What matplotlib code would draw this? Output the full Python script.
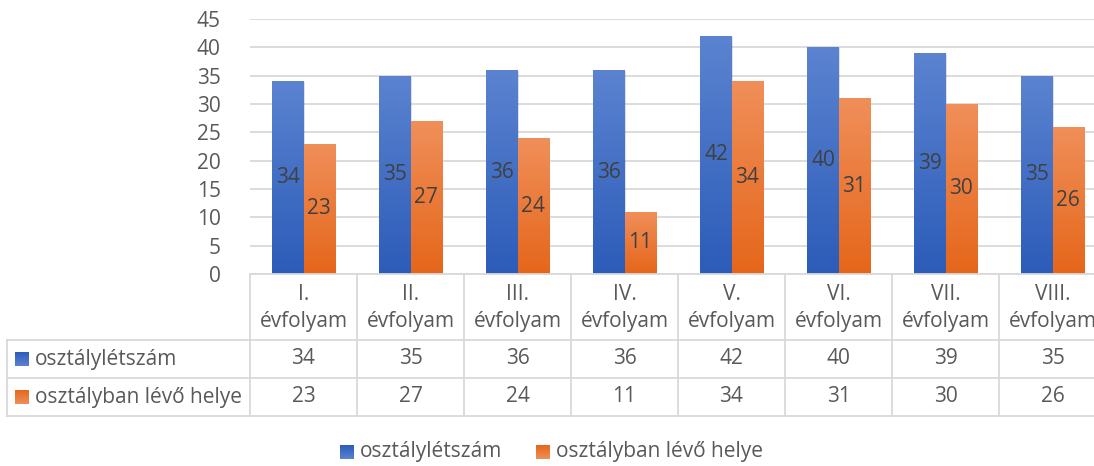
import numpy as np
import matplotlib
matplotlib.use("Agg")
import matplotlib.pyplot as plt
from matplotlib.patches import Rectangle
from matplotlib.colors import LinearSegmentedColormap

categories = ["I.\névfolyam", "II.\névfolyam", "III.\névfolyam", "IV.\névfolyam",
              "V.\névfolyam", "VI.\névfolyam", "VII.\névfolyam", "VIII.\névfolyam"]
series_names = ["osztálylétszám", "osztályban lévő helye"]
letszam = [34, 35, 36, 36, 42, 40, 39, 35]
helye = [23, 27, 24, 11, 34, 31, 30, 26]
yticks = [0, 5, 10, 15, 20, 25, 30, 35, 40, 45]

plt.rcParams['font.family'] = ['Open Sans', 'DejaVu Sans']
FS = 15
W, H = 1094, 466
fig = plt.figure(figsize=(W / 100, H / 100), dpi=100)

x0, y0, ytop = 250, 274, 19
catw = 107
ax = fig.add_axes([x0 / W, (H - y0) / H, 8 * catw / W, (y0 - ytop) / H])
ax.set_xlim(-0.5, 7.5)
ax.set_ylim(0, 45)
for s in ax.spines.values():
    s.set_visible(False)
ax.set_xticks([])
ax.set_yticks(yticks)
ax.tick_params(axis='y', length=0, pad=21, labelsize=FS, labelcolor='#595959')
ax.grid(axis='y', color='#d9d9d9', lw=1.3)
ax.set_axisbelow(True)

blue_cm = LinearSegmentedColormap.from_list('b', ['#2c5cb9', '#5b83d0'])
orange_cm = LinearSegmentedColormap.from_list('o', ['#e5661a', '#f08f5a'])
grad = np.linspace(0, 1, 256).reshape(-1, 1)

bw = 0.29
xs = np.arange(len(categories))
for vals, off, cm in [(letszam, -bw / 2, blue_cm), (helye, bw / 2, orange_cm)]:
    bars = ax.bar(xs + off, vals, width=bw, color='none', edgecolor='none', zorder=3)
    for b, v in zip(bars, vals):
        sh = Rectangle((b.get_x() + 0.012, 0), bw, v - 0.15, color='#000000', alpha=0.12, zorder=2.5, lw=0)
        ax.add_patch(sh)
        im = ax.imshow(grad, cmap=cm, origin='lower', aspect='auto',
                       extent=(b.get_x(), b.get_x() + bw, 0, v), zorder=3,
                       interpolation='bilinear')
        im.set_clip_path(b)
        ax.text(b.get_x() + bw / 2, v / 2, str(v), ha='center', va='center',
                fontsize=FS, color='#404040', zorder=4)
ax.set_xlim(-0.5, 7.5)
ax.set_ylim(0, 45)

ov = fig.add_axes([0, 0, 1, 1])
ov.set_xlim(0, W)
ov.set_ylim(H, 0)
ov.axis('off')
lc = '#d9d9d9'
lw = 1.3
rows_y = [274, 340, 378, 416]
xr = x0 + 8 * catw
ov.plot([x0, xr], [274, 274], color=lc, lw=lw)
for y in rows_y[1:]:
    ov.plot([7, xr], [y, y], color=lc, lw=lw)
ov.plot([7, 7], [340, 416], color=lc, lw=lw)
for i in range(9):
    xv = x0 + i * catw
    ov.plot([xv, xv], [274, 416], color=lc, lw=lw)
tc = '#595959'
for i, c in enumerate(categories):
    cx = x0 + (i + 0.5) * catw
    l1, l2 = c.split("\n")
    ov.text(cx, 295, l1, ha='center', va='center', fontsize=FS, color=tc)
    ov.text(cx, 321, l2, ha='center', va='center', fontsize=FS, color=tc)
    ov.text(cx, 359, str(letszam[i]), ha='center', va='center', fontsize=FS, color=tc)
    ov.text(cx, 397, str(helye[i]), ha='center', va='center', fontsize=FS, color=tc)
for ry, name, cm in [(359, series_names[0], blue_cm), (397, series_names[1], orange_cm)]:
    ov.imshow(grad, cmap=cm, origin='upper', aspect='auto', extent=(15, 29, ry + 7, ry - 7), zorder=3)
    ov.text(35, ry, name, ha='left', va='center', fontsize=FS, color=tc)

for lx, name, cm in [(340, series_names[0], blue_cm), (536, series_names[1], orange_cm)]:
    ov.imshow(grad, cmap=cm, origin='upper', aspect='auto', extent=(lx, lx + 14, 459, 445), zorder=3)
    ov.text(lx + 20, 452, name, ha='left', va='center', fontsize=FS, color=tc)
ov.set_xlim(0, W)
ov.set_ylim(H, 0)

fig.savefig('out.png', dpi=100)
